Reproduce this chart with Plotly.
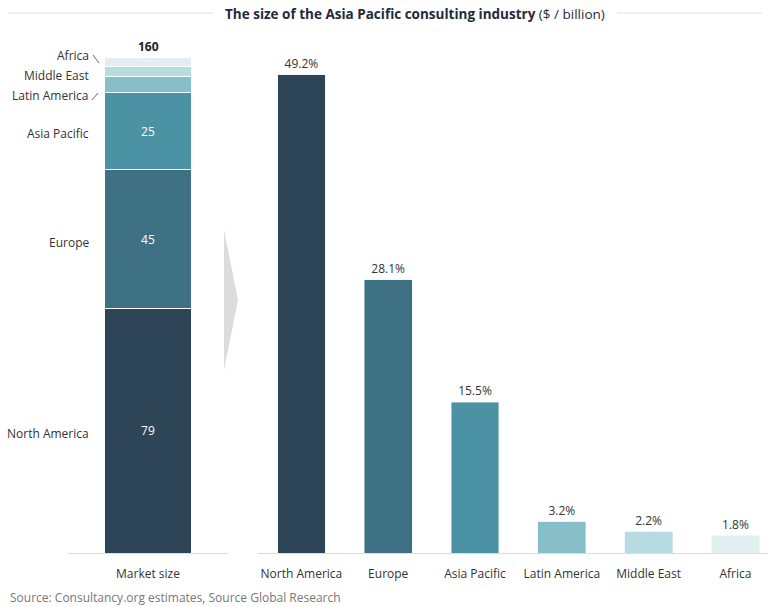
import plotly.graph_objects as go

regions = ["North America", "Europe", "Asia Pacific", "Latin America", "Middle East", "Africa"]
market_values = [79, 45, 25, 5.1, 3.5, 2.9]
market_labels = ["79", "45", "25", "", "", ""]
shares = [49.2, 28.1, 15.5, 3.2, 2.2, 1.8]
total_label = "160"
colors = ["#2e4558", "#3e7184", "#4b93a4", "#86bfc8", "#b6dbe0", "#e2eff0"]

W, H = 768, 607
def px(x): return x / W
def py(y): return 1 - y / H

fig = go.Figure()

# stacked market size bar
for r, v, lab, c in zip(regions, market_values, market_labels, colors):
    fig.add_trace(go.Bar(
        x=["Market size"], y=[v], name=r, marker=dict(color=c, line=dict(color="white", width=1)),
        text=[lab], textposition="inside", insidetextanchor="middle",
        textfont=dict(color="white", size=12), width=1.0,
        xaxis="x", yaxis="y", showlegend=False, hoverinfo="skip"))

# share bars
fig.add_trace(go.Bar(
    x=regions, y=shares, marker=dict(color=colors),
    text=[f"{s:.1f}%" for s in shares], textposition="outside",
    textfont=dict(color="#333333", size=12), cliponaxis=False, width=0.55,
    xaxis="x2", yaxis="y2", showlegend=False, hoverinfo="skip"))

ydom = [py(553), py(40)]
fig.update_layout(
    width=W, height=H, margin=dict(l=0, r=0, t=0, b=0),
    paper_bgcolor="white", plot_bgcolor="white", barmode="stack",
    font=dict(family="Open Sans", size=12, color="#333333"),
    xaxis=dict(domain=[px(68), px(228)], range=[-0.91, 0.91], showline=True, linecolor="#dcdcdc",
               linewidth=1, ticks="outside", ticklen=10, tickcolor="rgba(0,0,0,0)", showgrid=False,
               tickfont=dict(size=12, color="#333333")),
    yaxis=dict(domain=ydom, range=[0, 513 / 3.09], visible=False),
    xaxis2=dict(domain=[px(258), 1.0], range=[-0.5, 5.375], showline=True, linecolor="#dcdcdc",
                linewidth=1, ticks="outside", ticklen=10, tickcolor="rgba(0,0,0,0)", showgrid=False,
                tickfont=dict(size=12, color="#333333")),
    yaxis2=dict(domain=ydom, range=[0, 513 / 9.72], visible=False, anchor="x2"),
)

ann = []
ann.append(dict(x=px(415), y=py(14), xref="paper", yref="paper", showarrow=False,
                xanchor="center", yanchor="middle",
                text="<b>The size of the Asia Pacific consulting industry</b> ($ / billion)",
                font=dict(size=13.5, color="#1e2b3a")))
ann.append(dict(x=0, y=sum(market_values), xref="x", yref="y", showarrow=False, yanchor="bottom",
                xanchor="center", yshift=0, text=f"<b>{total_label}</b>",
                font=dict(size=12, color="#222222")))
side = [("North America", 433), ("Europe", 242), ("Asia Pacific", 133),
        ("Latin America", 96), ("Middle East", 75), ("Africa", 56)]
for t, yy in side:
    ann.append(dict(x=px(91), y=py(yy), xref="paper", yref="paper", showarrow=False,
                    xanchor="right", yanchor="middle", text=t,
                    font=dict(size=12, color="#333333")))
ann.append(dict(x=px(8), y=py(597), xref="paper", yref="paper", showarrow=False,
                xanchor="left", yanchor="middle",
                text="Source: Consultancy.org estimates, Source Global Research",
                font=dict(size=12, color="#777777")))
fig.update_layout(annotations=ann)

shapes = [
    dict(type="line", xref="paper", yref="paper", x0=px(8), x1=px(214), y0=py(13), y1=py(13),
         line=dict(color="#e0e0e0", width=1)),
    dict(type="line", xref="paper", yref="paper", x0=px(617), x1=px(762), y0=py(13), y1=py(13),
         line=dict(color="#e0e0e0", width=1)),
    dict(type="path", xref="paper", yref="paper",
         path=f"M {px(224)} {py(230)} L {px(238)} {py(300)} L {px(224)} {py(370)} Z",
         fillcolor="#dcdcdc", line=dict(width=0)),
    dict(type="line", xref="paper", yref="paper", x0=px(93), x1=px(99), y0=py(55), y1=py(63),
         line=dict(color="#666666", width=1)),
    dict(type="line", xref="paper", yref="paper", x0=px(92), x1=px(98), y0=py(100), y1=py(93),
         line=dict(color="#666666", width=1)),
]
fig.update_layout(shapes=shapes)

fig.write_html("out.html", config={"displayModeBar": False},
               post_script="document.body.style.margin='0';document.body.style.overflow='hidden';")
